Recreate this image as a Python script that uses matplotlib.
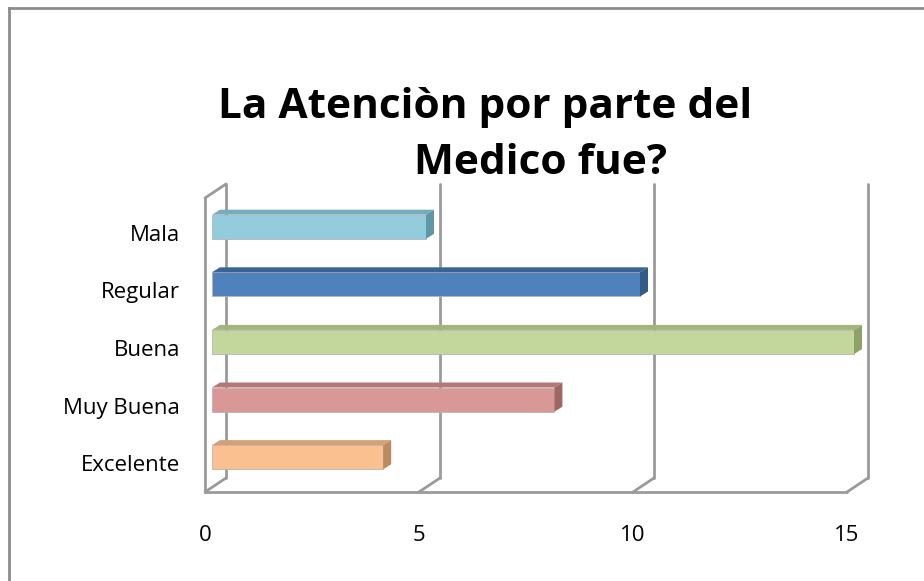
import numpy as np
import matplotlib.pyplot as plt
from matplotlib.patches import Polygon
from matplotlib.lines import Line2D

# data (bottom to top, as drawn)
categories = ['Excelente', 'Muy Buena', 'Buena', 'Regular', 'Mala']
values = [4, 8, 15, 10, 5]
x_ticks = [0, 5, 10, 15]

front_colors = ['#FAC090', '#D99795', '#C3D69B', '#4F81BD', '#93CDDD']
top_colors = ['#D4A074', '#B67876', '#A3B67A', '#3B6396', '#74AEBE']
side_colors = ['#BB8A60', '#A06664', '#8EA267', '#345A88', '#5F97A6']

W, H = 924, 581
fig = plt.figure(figsize=(W / 100, H / 100), dpi=100)

# axes = front plane of the 3d box (pixel layout of the reference)
x0, x1 = 205, 847
y_top, y_bot = 204, 492
ax = fig.add_axes([x0 / W, (H - y_bot) / H, (x1 - x0) / W, (y_bot - y_top) / H])
ax.set_xlim(0, 15)
ax.set_ylim(-0.5, 4.5)
for s in ax.spines.values():
    s.set_visible(False)

px_x = (x1 - x0) / 15.0
px_y = (y_bot - y_top) / 5.0


def off(dx, dy):
    return dx / px_x, dy / px_y


wall = dict(color='#9A9A9A', lw=2.0, clip_on=False, solid_capstyle='round', zorder=1)
bx, by = off(21, 14)
wall_top = 4.5 + 6 / px_y

# left wall and back grid lines
ax.plot([0, 0], [-0.5, wall_top], **wall)
ax.plot([0, bx], [wall_top, wall_top + by], **wall)
for v in x_ticks:
    ax.plot([v + bx, v + bx], [-0.5 + by, wall_top + by], **wall)
    ax.plot([v, v + bx], [-0.5, -0.5 + by], **wall)
ax.plot([0, 15], [-0.5, -0.5], **wall)

# bars with a small depth
fx, fy = off(7, 6)
dx, dy = off(8, 5)
h = 0.42
ypos = np.arange(len(categories))
bars = ax.barh(ypos + fy, values, height=h, left=fx, color=front_colors,
               edgecolor='#B5B5B5', linewidth=0.6, zorder=3)
for i, b in enumerate(bars):
    b.set_clip_on(False)
    xa, ya = b.get_x(), b.get_y()
    xb, yb = xa + b.get_width(), ya + b.get_height()
    top = Polygon([(xa, yb), (xb, yb), (xb + dx, yb + dy), (xa + dx, yb + dy)],
                  closed=True, facecolor=top_colors[i], edgecolor='none',
                  zorder=3, clip_on=False)
    side = Polygon([(xb, ya), (xb, yb), (xb + dx, yb + dy), (xb + dx, ya + dy)],
                   closed=True, facecolor=side_colors[i], edgecolor='none',
                   zorder=3, clip_on=False)
    ax.add_patch(top)
    ax.add_patch(side)

ax.set_yticks(ypos)
ax.set_yticklabels(categories, fontsize=16, family='Open Sans')
ax.set_xticks(x_ticks)
ax.set_xticklabels([str(t) for t in x_ticks], fontsize=16, family='Open Sans')
ax.tick_params(axis='y', length=0, pad=18)
ax.tick_params(axis='x', length=0, pad=24)

# title in two lines, as in the reference
fig.text(218 / W, 1 - 118 / H, 'La Atenciòn por parte del', fontsize=30.5,
         fontweight='bold', family='Open Sans', ha='left', va='baseline')
fig.text(414 / W, 1 - 174 / H, 'Medico fue?', fontsize=30.5,
         fontweight='bold', family='Open Sans', ha='left', va='baseline')

# chart border (only top and left show in the reference crop)
fig.add_artist(Line2D([9 / W, 9 / W], [0, 1 - 8 / H], color='#8C8C8C', lw=2))
fig.add_artist(Line2D([9 / W, 1], [1 - 8 / H, 1 - 8 / H], color='#8C8C8C', lw=2))

fig.savefig('out.png', dpi=100)
